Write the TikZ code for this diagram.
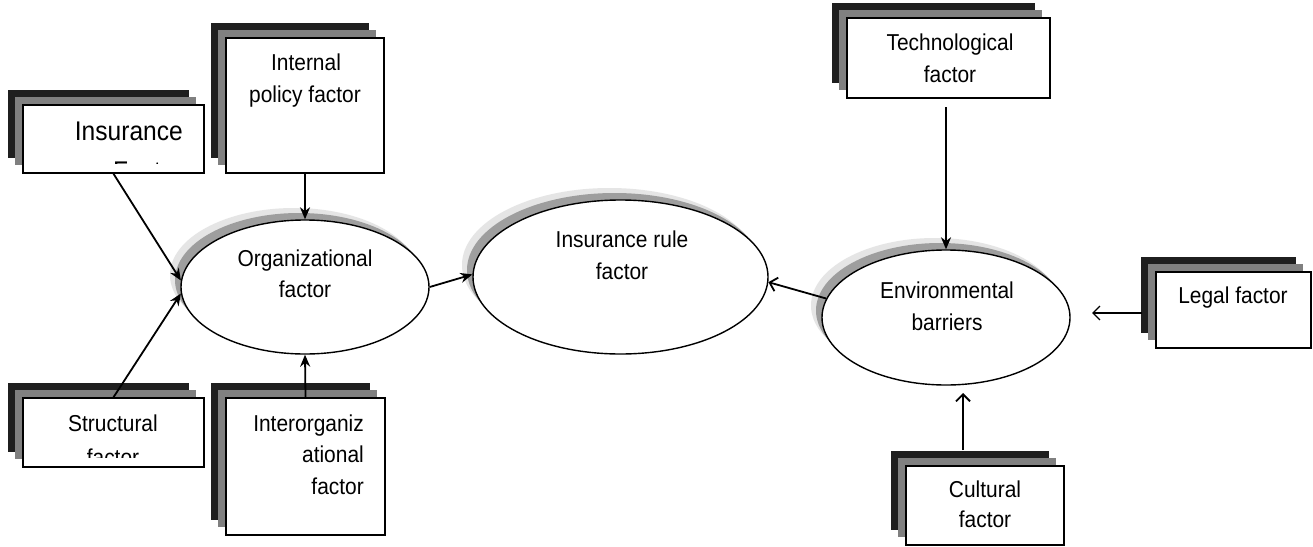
\documentclass[tikz,border=0pt]{standalone}
\usepackage{fontspec}
\setmainfont{Liberation Sans}[FakeStretch=0.91]
\usetikzlibrary{shapes.geometric,shadows,arrows.meta}
\tikzset{
  stackbox/.style={rectangle, draw=black, line width=1.5pt, fill=white, inner sep=0pt,
    general shadow={fill=black!88, shadow xshift=-15.5pt, shadow yshift=15pt},
    general shadow={fill=black!50, shadow xshift=-8pt, shadow yshift=8pt}},
  ell/.style={ellipse, draw=black, line width=1.4pt, fill=white, inner sep=0pt,
    general shadow={fill=black!10, shadow xshift=-11pt, shadow yshift=12pt},
    general shadow={fill=black!38, shadow xshift=-6pt, shadow yshift=7pt}},
  txt/.style={font=\fontsize{23}{30}\selectfont, inner sep=0pt, anchor=base},
  bigtxt/.style={font=\fontsize{27}{34}\selectfont, inner sep=0pt, anchor=base east},
  arrL/.style={line width=1.8pt, -{Stealth[length=12pt,width=10pt]}},
  arrR/.style={line width=1.8pt, -{Straight Barb[length=7pt,width=14pt]}},
}
\begin{document}
\begin{tikzpicture}[x=1pt,y=-1pt]
\useasboundingbox (0,0) rectangle (1313,546);
\fill[white] (0,0) rectangle (1313,546);

% ---- ellipses ----
\node[ell, minimum width=248pt, minimum height=134pt] (org) at (305,287) {};
\node[ell, minimum width=295pt, minimum height=154pt] (rule) at (620.5,277) {};
\node[ell, minimum width=248pt, minimum height=135pt] (env) at (946,317.5) {};

\node[txt] (orgT1) at (305,266) {Organizational};
\node[txt] (orgT2) at (305,297) {factor};
\node[txt] (ruleT1) at (622,247) {Insurance rule};
\node[txt] (ruleT2) at (622,279) {factor};
\node[txt] (envT1) at (947,298) {Environmental};
\node[txt] (envT2) at (947,330) {barriers};

% ---- stacked boxes ----
\node[stackbox, minimum width=181pt, minimum height=68pt] (ins) at (113.5,139) {};
\node[stackbox, minimum width=158pt, minimum height=135pt] (int) at (305,105.5) {};
\node[stackbox, minimum width=181pt, minimum height=69pt] (str) at (113.5,432.5) {};
\node[stackbox, minimum width=159pt, minimum height=137pt] (inter) at (305.5,466.5) {};
\node[stackbox, minimum width=203pt, minimum height=80pt] (tech) at (948.5,58) {};
\node[stackbox, minimum width=155pt, minimum height=76pt] (legal) at (1233.5,310) {};
\node[stackbox, minimum width=158pt, minimum height=79pt] (cult) at (985,505.5) {};

% box texts
\node[bigtxt] (insT1) at (183,140) {Insurance};
\begin{scope}
  \clip (23,105) rectangle (204,163);
  \node[bigtxt] (insT2) at (183,180) {Factor};
\end{scope}
\node[txt] (intT1) at (306,70) {Internal};
\node[txt] (intT2) at (305,102) {policy factor};
\node[txt] (strT1) at (113,431) {Structural};
\begin{scope}
  \clip (23,398) rectangle (204,457);
  \node[txt] (strT2) at (113,465) {factor};
\end{scope}
\node[txt, anchor=base east] (interT1) at (364,431) {Interorganiz};
\node[txt, anchor=base east] (interT2) at (364,462) {ational};
\node[txt, anchor=base east] (interT3) at (364,494) {factor};
\node[txt] (techT1) at (950,50) {Technological};
\node[txt] (techT2) at (950,82) {factor};
\node[txt] (legalT) at (1233,303) {Legal factor};
\node[txt] (cultT1) at (985,497) {Cultural};
\node[txt] (cultT2) at (985,527) {factor};

% ---- connector end points ----
\coordinate (techgap) at (946,107);
\coordinate (cultgap) at (963,450);
\coordinate (culttip) at (963,393);
\coordinate (legalgap) at (1142,313);
\coordinate (legaltip) at (1092,313);

% ---- connectors ----
\draw[arrL] (ins.south) -- (org.177);
\draw[arrL] (str.north) -- (org.183);
\draw[arrL] (int.south) -- (org.north);
\draw[arrL] (inter.north) -- (org.south);
\draw[arrL] (org.east) -- (rule.179);
\draw[arrR] (env.171) -- (rule.-2);
\draw[arrL] (techgap) -- (env.north);
\draw[arrR] (cultgap) -- (culttip);
\draw[arrR, line width=1.3pt] (legalgap) -- (legaltip);
\end{tikzpicture}
\end{document}
